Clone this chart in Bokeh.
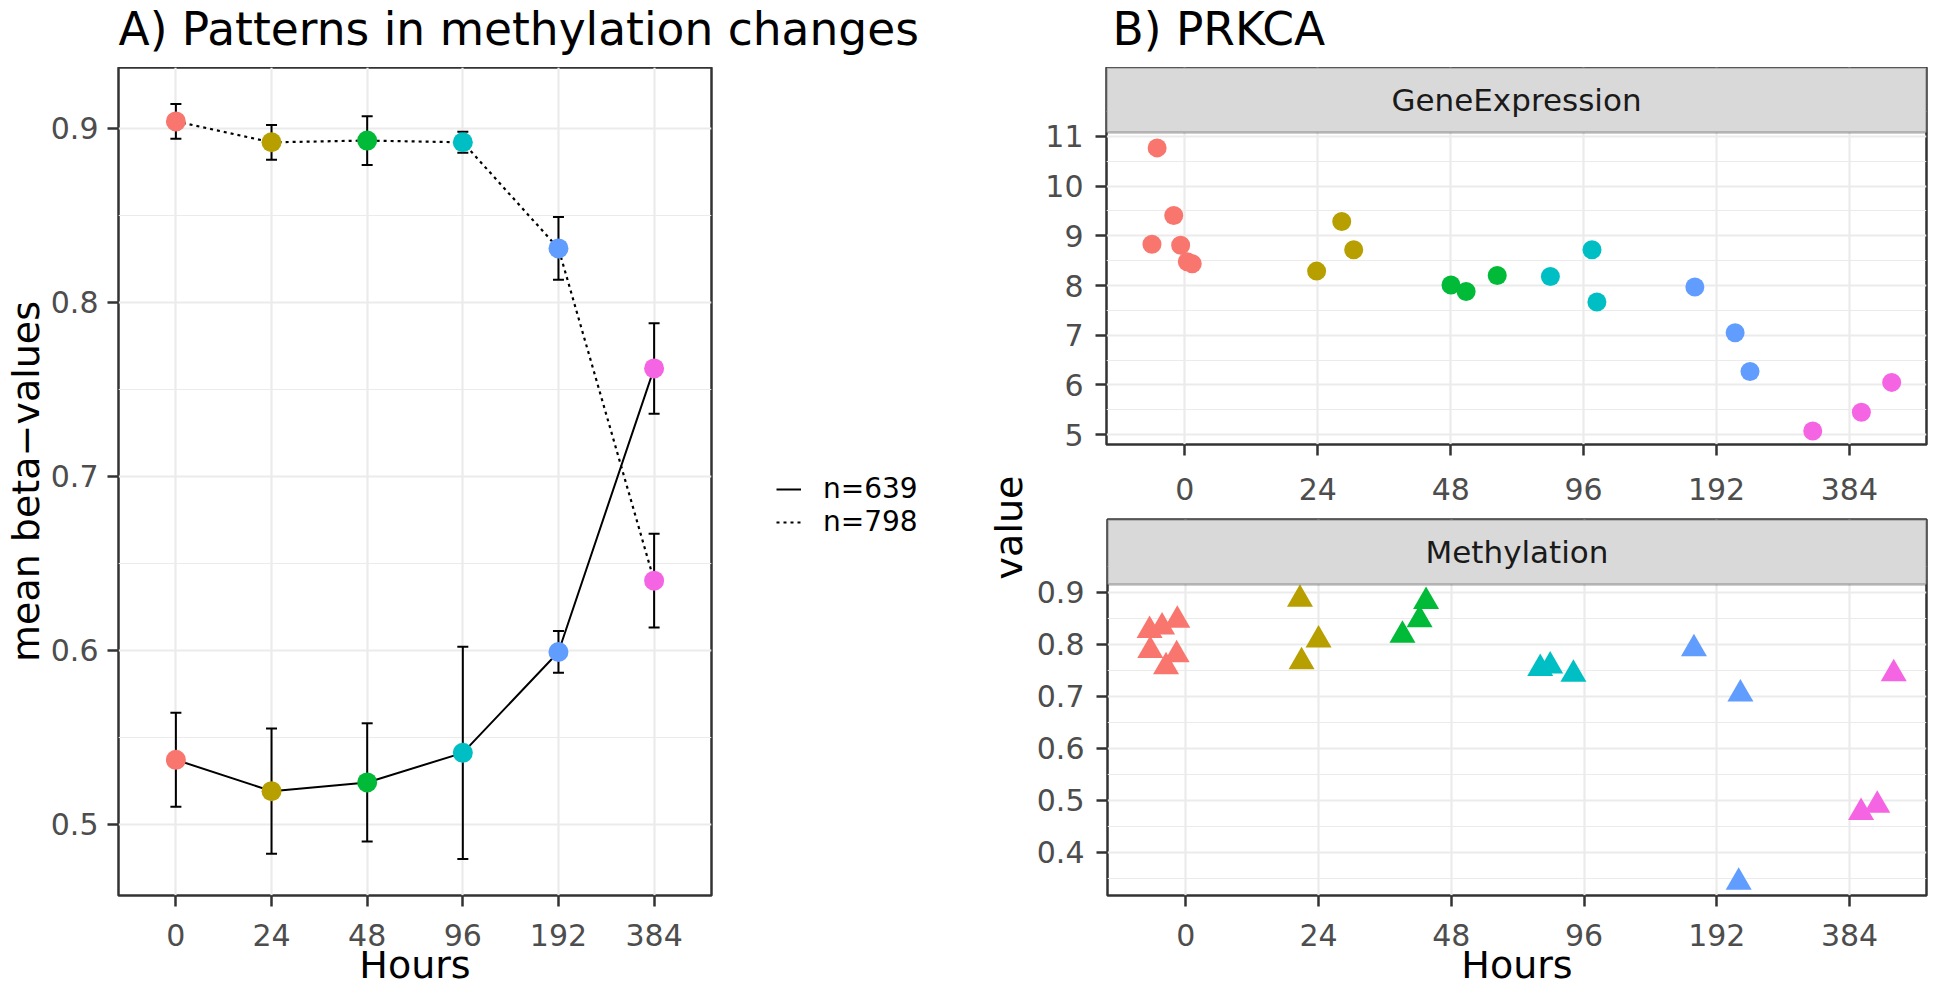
import math
from bokeh.plotting import figure
from bokeh.models import (ColumnDataSource, FixedTicker, Legend, LegendItem, BoxAnnotation,
                          Label, Range1d, Whisker, TeeHead)
from bokeh.layouts import row, column
from bokeh.embed import file_html
from bokeh.resources import INLINE

FONT = "DejaVu Sans"
GRID = "#EBEBEB"
BORDER = "#333333"
TICKLAB = "#4D4D4D"
STRIP_FILL = "#D9D9D9"

# ---------------- data ----------------
hours = ["0", "24", "48", "96", "192", "384"]
hour_colors = ["#F8766D", "#B79F00", "#00BA38", "#00BFC4", "#619CFF", "#F564E3"]

# Panel A: mean beta-values with error bars
mean_639 = [0.537, 0.519, 0.524, 0.541, 0.599, 0.762]
err_639 = [0.027, 0.036, 0.034, 0.061, 0.012, 0.026]
mean_798 = [0.904, 0.892, 0.893, 0.892, 0.831, 0.640]
err_798 = [0.010, 0.010, 0.014, 0.006, 0.018, 0.027]
legend_labels = ["n=639", "n=798"]
a_yticks = [0.5, 0.6, 0.7, 0.8, 0.9]
a_yminor = [0.45, 0.55, 0.65, 0.75, 0.85, 0.95]

# Panel B: PRKCA, GeneExpression (jittered points)
ge_hour = ["0"] * 6 + ["24"] * 3 + ["48"] * 3 + ["96"] * 3 + ["192"] * 3 + ["384"] * 3
ge_jitter = [-0.209, -0.084, -0.248, -0.032, 0.018, 0.055,
             -0.009, 0.180, 0.270,
             0.002, 0.116, 0.350,
             -0.250, 0.063, 0.100,
             -0.163, 0.140, 0.252,
             -0.276, 0.090, 0.318]
ge_value = [10.77, 9.41, 8.83, 8.81, 8.48, 8.44,
            8.29, 9.29, 8.72,
            8.01, 7.88, 8.20,
            8.18, 8.72, 7.67,
            7.97, 7.05, 6.27,
            5.07, 5.45, 6.05]
ge_yticks = [5, 6, 7, 8, 9, 10, 11]
ge_yminor = [4.5, 5.5, 6.5, 7.5, 8.5, 9.5, 10.5, 11.5]

# Panel B: Methylation (jittered points)
me_hour = ["0"] * 6 + ["24"] * 3 + ["48"] * 3 + ["96"] * 3 + ["192"] * 3 + ["384"] * 3
me_jitter = [-0.273, -0.179, -0.064, -0.268, -0.069, -0.149,
             -0.140, 0.000, -0.128,
             -0.190, -0.239, -0.368,
             -0.330, -0.255, -0.080,
             -0.172, 0.178, 0.165,
             0.333, 0.087, 0.209]
me_value = [0.826, 0.833, 0.846, 0.7875, 0.7795, 0.7566,
            0.886, 0.808, 0.766,
            0.882, 0.847, 0.817,
            0.753, 0.758, 0.742,
            0.791, 0.704, 0.342,
            0.743, 0.476, 0.490]
me_yticks = [0.4, 0.5, 0.6, 0.7, 0.8, 0.9]
me_yminor = [0.35, 0.45, 0.55, 0.65, 0.75, 0.85, 0.95]

titles = ["A) Patterns in methylation changes", "B) PRKCA"]

xpos = {h: i + 1 for i, h in enumerate(hours)}
hour_color = dict(zip(hours, hour_colors))
x_overrides = {i + 1: h for i, h in enumerate(hours)}

# ---------------- geometry (page pixels, inside the 8px margin) ----------------
TOTAL_W, TOTAL_H = 1930, 990
TITLE_H = 67
BODY_H = TOTAL_H - TITLE_H
A_W = 735            # panel A figure (frame 112 .. 711 inside it)
MID_W = 298          # legend + "value" label strip
B_W = TOTAL_W - A_W - MID_W
X_BOTTOM = 95


def blank(width, height):
    p = figure(width=width, height=height, x_range=Range1d(0, 1), y_range=Range1d(0, 1),
               x_axis_type=None, y_axis_type=None, min_border=0,
               min_border_left=0, min_border_right=0, min_border_top=0, min_border_bottom=0,
               frame_align=False, output_backend="svg", toolbar_location=None)
    p.grid.visible = False
    p.outline_line_color = None
    p.background_fill_color = "white"
    p.border_fill_color = "white"
    return p


def style(p, yticks, yminor, xstandoff, ystandoff):
    p.background_fill_color = "white"
    p.border_fill_color = "white"
    p.outline_line_color = BORDER
    p.outline_line_width = 2.5
    p.xaxis.ticker = FixedTicker(ticks=list(x_overrides.keys()))
    p.xaxis.major_label_overrides = x_overrides
    p.yaxis.ticker = FixedTicker(ticks=yticks, minor_ticks=yminor)
    for ax in p.axis:
        ax.axis_line_color = None
        ax.major_tick_line_color = BORDER
        ax.major_tick_line_width = 2.5
        ax.major_tick_out = 11
        ax.major_tick_in = 0
        ax.minor_tick_line_color = None
        ax.major_label_text_font = FONT
        ax.major_label_text_font_size = "30px"
        ax.major_label_text_color = TICKLAB
        ax.axis_label_text_font = FONT
        ax.axis_label_text_font_size = "38px"
        ax.axis_label_text_font_style = "normal"
        ax.axis_label_text_color = "black"
    p.xaxis.major_label_standoff = xstandoff
    p.yaxis.major_label_standoff = ystandoff
    p.xaxis.axis_label_standoff = -6
    p.yaxis.axis_label_standoff = 0
    p.xgrid.grid_line_color = GRID
    p.xgrid.grid_line_width = 2.2
    p.ygrid.grid_line_color = GRID
    p.ygrid.grid_line_width = 2.2
    p.ygrid.minor_grid_line_color = GRID
    p.ygrid.minor_grid_line_width = 1.1


# ---------------- titles strip ----------------
pT = blank(TOTAL_W, TITLE_H)
for txt, left in zip(titles, (118, 1112)):
    pT.add_layout(Label(x=left / TOTAL_W, y=0.97, text=txt,
                        text_align="left", text_baseline="top",
                        text_font=FONT, text_font_size="45.5px", text_color="black"))

# ---------------- Panel A ----------------
pA = figure(width=A_W, height=BODY_H,
            x_range=Range1d(0.4, 6.6), y_range=Range1d(0.459, 0.935),
            min_border_left=112, min_border_right=A_W - 112 - 599, min_border_top=0,
            min_border_bottom=X_BOTTOM, frame_align=False,
            output_backend="svg", toolbar_location=None)
style(pA, a_yticks, a_yminor, 17, 9)
pA.xaxis.axis_label = "Hours"
pA.yaxis.axis_label = "mean beta\u2212values"

srcA = ColumnDataSource(dict(
    x=[xpos[h] for h in hours], color=hour_colors,
    m639=mean_639, lo639=[m - e for m, e in zip(mean_639, err_639)], hi639=[m + e for m, e in zip(mean_639, err_639)],
    m798=mean_798, lo798=[m - e for m, e in zip(mean_798, err_798)], hi798=[m + e for m, e in zip(mean_798, err_798)],
))
for lo, hi in (("lo639", "hi639"), ("lo798", "hi798")):
    w = Whisker(base="x", lower=lo, upper=hi, source=srcA, dimension="height",
                line_color="black", line_width=2,
                upper_head=TeeHead(size=11, line_color="black", line_width=2),
                lower_head=TeeHead(size=11, line_color="black", line_width=2))
    pA.add_layout(w)

LINE_639 = dict(line_color="black", line_width=2)
LINE_798 = dict(line_color="black", line_width=2.2, line_dash="3 4")
pA.line("x", "m639", source=srcA, **LINE_639)
pA.line("x", "m798", source=srcA, **LINE_798)
pA.scatter("x", "m639", source=srcA, size=20, fill_color="color", line_color=None)
pA.scatter("x", "m798", source=srcA, size=20, fill_color="color", line_color=None)

# ---------------- middle strip: legend of panel A + "value" label of panel B ----------------
pM = blank(MID_W, BODY_H)
nan = float("nan")
k639 = pM.line([nan], [nan], **LINE_639)
k798 = pM.line([nan], [nan], **LINE_798)
legend = Legend(items=[LegendItem(label=legend_labels[0], renderers=[k639]),
                       LegendItem(label=legend_labels[1], renderers=[k798])],
                location=(784 - 8 - A_W, BODY_H - (546 - 8 - TITLE_H)), orientation="vertical",
                label_text_font=FONT, label_text_font_size="28px", label_text_color="black",
                glyph_width=25, glyph_height=20, label_standoff=22, spacing=0,
                padding=0, margin=0, border_line_color=None, background_fill_alpha=0)
pM.add_layout(legend, "center")
pM.add_layout(Label(x=(1016 - 8 - A_W) / MID_W, y=(998 - 535) / BODY_H, text="value",
                    angle=math.pi / 2, text_align="center", text_baseline="middle",
                    text_font=FONT, text_font_size="38px", text_color="black"))

# ---------------- Panel B facets ----------------
B_LEFT = 1114 - 8 - A_W - MID_W
STRIP_PX = 65


def facet(height, mb_top, mb_bot, lo, hi, hours_col, jitter, values, marker, size,
          yticks, yminor, strip_text, xlabel, xstandoff):
    frame_h = height - mb_top - mb_bot
    top = hi + STRIP_PX * (hi - lo) / (frame_h - STRIP_PX)
    p = figure(width=B_W, height=height,
               x_range=Range1d(0.41, 6.58), y_range=Range1d(lo, top),
               min_border_left=B_LEFT, min_border_right=4, min_border_top=mb_top, min_border_bottom=mb_bot,
               frame_align=False, output_backend="svg", toolbar_location=None)
    style(p, yticks, yminor, xstandoff, 12)
    if xlabel:
        p.xaxis.axis_label = xlabel
    src = ColumnDataSource(dict(
        x=[xpos[h] + j for h, j in zip(hours_col, jitter)],
        y=values,
        color=[hour_color[h] for h in hours_col]))
    p.scatter("x", "y", source=src, marker=marker, size=size, fill_color="color", line_color=None)
    p.add_layout(BoxAnnotation(bottom=hi, fill_color=STRIP_FILL, fill_alpha=1.0,
                               line_color=BORDER, line_width=2.5))
    p.add_layout(Label(x=(0.41 + 6.58) / 2, y=(hi + top) / 2, text=strip_text,
                       text_align="center", text_baseline="middle",
                       text_font=FONT, text_font_size="31px", text_color="#1A1A1A"))
    return p


GE_H = 514 - 8 - TITLE_H
pGE = facet(GE_H, 0, 62, 4.80, 11.08, ge_hour, ge_jitter, ge_value, "circle", 19,
            ge_yticks, ge_yminor, "GeneExpression", None, 22)
pME = facet(BODY_H - GE_H, 13, X_BOTTOM, 0.3164, 0.9146, me_hour, me_jitter, me_value, "triangle", 26,
            me_yticks, me_yminor, "Methylation", "Hours", 17)

layout = column(pT, row(pA, pM, column(pGE, pME)))
open("out.html", "w").write(file_html(layout, INLINE))
